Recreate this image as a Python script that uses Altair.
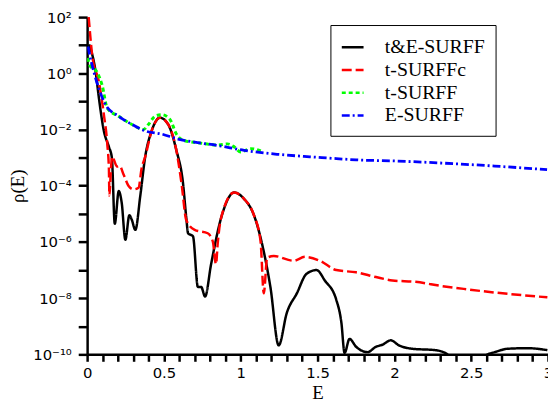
import json
import altair as alt
import pandas as pd

series_names = ["t&E-SURFF", "t-SURFFc", "t-SURFF", "E-SURFF"]
series_colors = ["#000000", "#ff0000", "#00ff00", "#0000ff"]
series_dash = [[1, 0], [10, 4], [4, 3], [8, 3, 2, 3]]

# t&E-SURFF (black)
black_E = [0.013, 0.056, 0.077, 0.109, 0.142, 0.161, 0.180, 0.206, 0.225, 0.249,
           0.275, 0.290, 0.314, 0.346, 0.378, 0.420, 0.474, 0.528, 0.581, 0.624,
           0.646, 0.657, 0.689, 0.721, 0.742, 0.768, 0.807, 0.871, 0.957, 1.022,
           1.086, 1.140, 1.193, 1.247, 1.300, 1.365, 1.429, 1.494, 1.547, 1.622,
           1.655, 1.676, 1.708, 1.751, 1.826, 1.880, 1.925, 1.976, 2.030, 2.116,
           2.266, 2.331, 2.395, 2.524, 2.607, 2.653, 2.738, 2.867, 2.996]
black_log = [1.03, 0.03, -0.89, -2.05, -2.62, -3.0, -5.35, -4.19, -4.6, -5.92,
             -5.05, -5.2, -5.57, -4.36, -2.97, -2.05, -1.58, -1.82, -2.74, -3.9,
             -5.17, -5.69, -5.8, -7.6, -7.6, -7.94, -6.79, -5.17, -4.24, -4.47,
             -5.05, -6.1, -7.6, -9.68, -8.52, -7.83, -7.13, -7.0, -7.37, -8.06,
             -8.87, -9.95, -9.45, -9.73, -9.92, -9.73, -9.65, -9.5, -9.68, -9.8,
             -9.85, -9.95, -10.2, -10.3, -10.0, -9.92, -9.8, -9.78, -9.85]

# t-SURFFc (red)
red_E = [0.010, 0.034, 0.077, 0.109, 0.131, 0.142, 0.145, 0.155, 0.163, 0.195,
         0.212, 0.238, 0.270, 0.303, 0.335, 0.354, 0.378, 0.420, 0.474, 0.528,
         0.581, 0.614, 0.646, 0.700, 0.785, 0.818, 0.839, 0.850, 0.871, 0.957,
         1.022, 1.086, 1.129, 1.150, 1.172, 1.215, 1.344, 1.418, 1.515, 1.622,
         1.751, 1.880, 1.987, 2.137, 2.309, 2.481, 2.653, 2.824, 2.996]
red_log = [2.0, 0.61, -0.31, -1.47, -2.5, -3.43, -4.35, -3.4, -2.97, -3.32,
           -3.3, -3.61, -4.01, -4.13, -4.07, -3.4, -2.97, -2.05, -1.58, -1.82,
           -2.74, -3.9, -5.23, -5.57, -5.69, -5.98, -6.79, -6.05, -5.17, -4.24,
           -4.47, -5.05, -5.98, -7.83, -6.56, -6.5, -6.67, -6.53, -6.67, -7.0,
           -7.08, -7.25, -7.37, -7.42, -7.57, -7.69, -7.8, -7.89, -7.97]

# t-SURFF (green)
green_E = [0.006, 0.013, 0.066, 0.098, 0.131, 0.206, 0.292, 0.367, 0.399, 0.442,
           0.485, 0.539, 0.581, 0.635, 0.721, 0.850, 0.914, 0.953, 1.000, 1.064, 1.140]
green_log = [0.55, 0.32, 0.03, -0.43, -1.24, -1.53, -1.82, -2.0, -1.82, -1.53,
             -1.47, -1.64, -2.16, -2.4, -2.47, -2.55, -2.51, -2.6, -2.8, -2.68, -2.78]

# E-SURFF (blue)
blue_E = [0.006, 0.013, 0.045, 0.077, 0.120, 0.206, 0.292, 0.378, 0.485, 0.592,
          0.700, 0.850, 1.022, 1.236, 1.450, 1.558, 1.751, 2.009, 2.331, 2.653, 2.994]
blue_log = [0.95, 0.75, 0.03, -0.55, -1.12, -1.53, -1.82, -2.05, -2.16, -2.34,
            -2.45, -2.57, -2.74, -2.88, -2.97, -3.01, -3.08, -3.12, -3.2, -3.3, -3.43]

x_tick_values = [0.0, 0.1, 0.2, 0.3, 0.4, 0.5, 0.6, 0.7, 0.8, 0.9, 1.0, 1.1, 1.2, 1.3,
                 1.4, 1.5, 1.6, 1.7, 1.8, 1.9, 2.0, 2.1, 2.2, 2.3, 2.4, 2.5, 2.6, 2.7,
                 2.8, 2.9, 3.0]
y_tick_values = [1e-10, 1e-9, 1e-8, 1e-7, 1e-6, 1e-5, 1e-4, 1e-3, 1e-2, 1e-1, 1e0, 1e1, 1e2]
y_tick_labels = ["10⁻¹⁰", "", "10⁻⁸", "", "10⁻⁶", "", "10⁻⁴", "", "10⁻²", "", "10⁰", "", "10²"]

data_sets = {
    "t&E-SURFF": (black_E, black_log),
    "t-SURFFc": (red_E, red_log),
    "t-SURFF": (green_E, green_log),
    "E-SURFF": (blue_E, blue_log),
}
rows = []
for name, (es, ls) in data_sets.items():
    for e, l in zip(es, ls):
        rows.append({"E": e, "rho": 10 ** l, "series": name})
df = pd.DataFrame(rows)

PLOT_H = 341

x_enc = alt.X("E:Q", scale=alt.Scale(domain=[0, 3], nice=False),
              axis=alt.Axis(values=x_tick_values, title="E", tickSize=7, labelPadding=4,
                            labelFlush=False, labelOverlap=False,
                            labelExpr="abs(datum.value*2 - round(datum.value*2)) < 0.01 ? format(datum.value, '~g') : ''",
                            titleX=233, titleY=45, titleBaseline="alphabetic"))
y_enc = alt.Y("rho:Q", scale=alt.Scale(type="log", domain=[1e-10, 1e2], nice=False),
              axis=alt.Axis(values=y_tick_values, title="ρ(E)", tickSize=9, labelPadding=7,
                            labelFlush=False, labelOverlap=False,
                            labelExpr=json.dumps(y_tick_labels, ensure_ascii=False) + "[round(log(datum.value)/LN10)+10]",
                            titleX=-60, titleY=PLOT_H / 2, titleAngle=270, titleBaseline="bottom"))

legend = alt.Legend(title=None, orient="none", legendX=246, legendY=8,
                    symbolType="stroke", symbolSize=484, symbolStrokeWidth=2.5,
                    labelFont="Liberation Serif", labelFontSize=20, labelColor="black",
                    labelOffset=20, rowPadding=0, padding=10,
                    strokeColor="black", fillColor="white")

color_enc = alt.Color("series:N", scale=alt.Scale(domain=series_names, range=series_colors), legend=legend)
dash_enc = alt.StrokeDash("series:N", scale=alt.Scale(domain=series_names, range=series_dash), legend=legend)

layers = []
widths = {"t&E-SURFF": 2.5, "t-SURFFc": 2.5, "t-SURFF": 3, "E-SURFF": 2.8}
for name in series_names:
    layers.append(
        alt.Chart(df[df["series"] == name]).mark_line(
            clip=True, strokeWidth=widths[name], interpolate="monotone"
        ).encode(x=x_enc, y=y_enc, color=color_enc, strokeDash=dash_enc)
    )

chart = alt.layer(*layers).properties(
    width=466, height=PLOT_H,
    padding={"left": 80, "top": 7, "right": 0, "bottom": 50},
    autosize=alt.AutoSizeParams(type="none"),
).configure_view(stroke=None).configure_axis(
    domainColor="black", domainWidth=2.5, tickColor="black", tickWidth=2.5, grid=False,
    labelColor="black", labelFont="DejaVu Sans", labelFontSize=15,
    titleFont="Liberation Serif", titleFontSize=19, titleFontWeight="normal", titleColor="black",
)

chart.save("out.html", embed_options={"renderer": "svg", "actions": False})
